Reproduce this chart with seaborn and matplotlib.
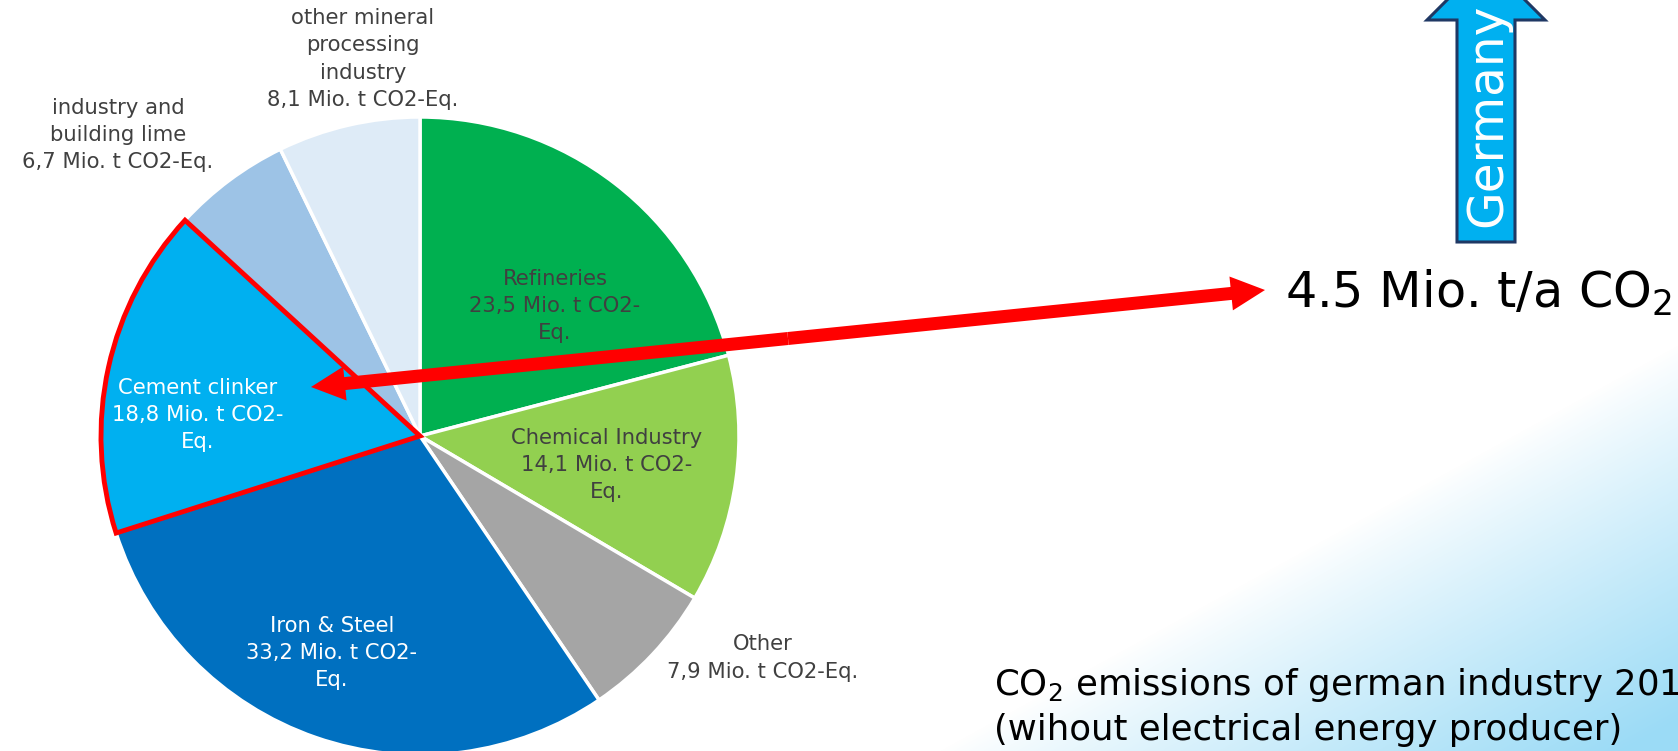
import numpy as np
import matplotlib
matplotlib.use("Agg")
import matplotlib.pyplot as plt
from matplotlib.patches import Polygon
import seaborn as sns

# emissions of german industry, Mio. t CO2-Eq., clockwise from 12 o'clock
sectors = ["Refineries", "Chemical Industry", "Other", "Iron & Steel",
           "Cement clinker", "industry and\nbuilding lime", "other mineral\nprocessing\nindustry"]
emissions = [23.5, 14.1, 7.9, 33.2, 18.8, 6.7, 8.1]
wrap_unit = [True, True, False, True, True, False, False]
sector_colors = ["#00B050", "#92D050", "#A5A5A5", "#0070C0", "#00B0F0", "#9DC3E6", "#DEEBF7"]
text_colors = ["#404040", "#404040", "#404040", "white", "white", "#404040", "#404040"]
highlight = "Cement clinker"
highlight_value = "4.5 Mio. t/a CO$_2$"

W, H = 1678, 751

sns.set_theme(style="white")
plt.rcParams['font.family'] = ['DejaVu Sans']


def yd(y):
    # helper: positions below are read top-down from the slide
    return H - y


fig = plt.figure(figsize=(W / 100, H / 100), dpi=100)
ax = fig.add_axes([0, 0, 1, 1])

# light blue fade in the lower right corner
xx, yy = np.meshgrid(np.arange(W) + 0.5, np.arange(H) + 0.5)
t = np.clip(((xx - 940) * 411 + (yy - 751) * 748) / 853 / 330, 0, 1) ** 0.9
corner = np.array([155, 219, 246]) / 255
bg = np.ones((H, W, 3)) * (1 - t[..., None]) + corner * t[..., None]
ax.imshow(bg, extent=(0, W, 0, H), origin='upper', zorder=0)

wedges, _ = ax.pie(emissions, colors=sector_colors, startangle=90, counterclock=False,
                   center=(420, yd(436)), radius=319,
                   wedgeprops=dict(edgecolor='white', linewidth=2.5))
for w, name in zip(wedges, sectors):
    w.set_zorder(2)
    if name == highlight:
        w.set_edgecolor('red')
        w.set_linewidth(3.5)
        w.set_joinstyle('miter')
        w.set_zorder(3)

label_pos = [(555, 306), (607, 465), (763, 658), (332, 653), (198, 415), (118, 135), (363, 59)]
for name, val, wrap, col, (x, y) in zip(sectors, emissions, wrap_unit, text_colors, label_pos):
    v = f"{val:.1f}".replace('.', ',')
    unit = "Mio. t CO2-\nEq." if wrap else "Mio. t CO2-Eq."
    ax.text(x, yd(y), f"{name}\n{v} {unit}", ha='center', va='center', fontsize=15.2,
            color=col, linespacing=1.45, zorder=5)

# double headed red arrow
x0, y0 = 311, yd(387)
x1, y1 = 1265, yd(290)
mx, my = (x0 + x1) / 2, (y0 + y1) / 2
for ex, ey in [(x0, y0), (x1, y1)]:
    ax.arrow(mx, my, ex - mx, ey - my, width=13, head_width=34, head_length=34,
             length_includes_head=True, fc='red', ec='none', zorder=6)

ax.text(1285, yd(308), highlight_value, fontsize=35.5, color='black', va='baseline', ha='left', zorder=6)

# Germany block arrow
arrow_pts = [(1457, 242), (1457, 20), (1427, 20), (1486, -39), (1545, 20), (1515, 20), (1515, 242)]
ax.add_patch(Polygon([(x, yd(y)) for x, y in arrow_pts], closed=True, fc='#00B0F0',
                     ec='#1F3864', lw=2.2, joinstyle='miter', zorder=4))
ax.text(1487, yd(115), "Germany", rotation=90, ha='center', va='center', fontsize=35,
        color='white', zorder=5)

ax.text(994, yd(695), "CO$_2$ emissions of german industry 2019", fontsize=25.6,
        color='black', ha='left', va='baseline', zorder=6)
ax.text(994, yd(740), "(wihout electrical energy producer)", fontsize=25.6,
        color='black', ha='left', va='baseline', zorder=6)

ax.set_xlim(0, W)
ax.set_ylim(0, H)
ax.set_aspect('equal')
ax.axis('off')

fig.savefig("out.png", dpi=100)
